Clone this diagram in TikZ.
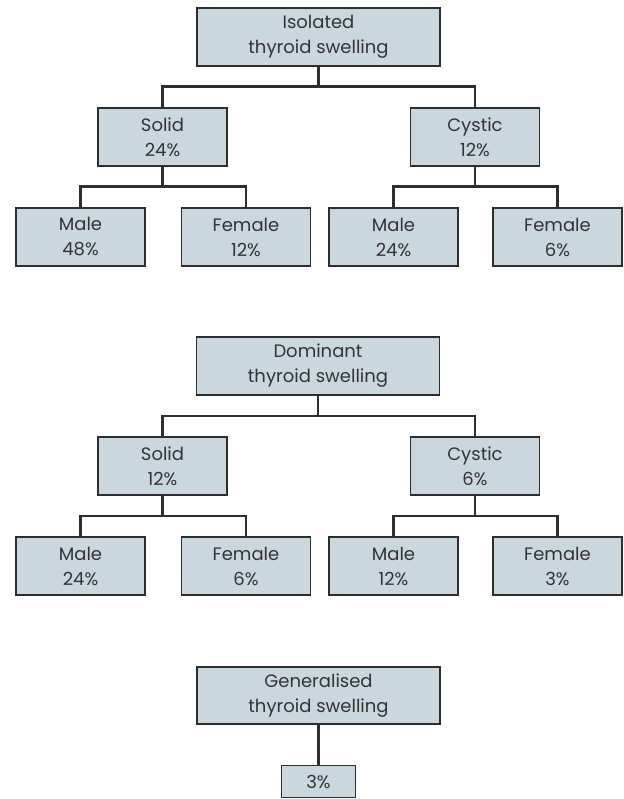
\documentclass[tikz,border=0pt]{standalone}
\usepackage{fontspec}
\setmainfont{Poppins}
\definecolor{boxfill}{HTML}{CBD7DF}
\definecolor{boxline}{HTML}{2E2E2E}
\definecolor{txt}{HTML}{333333}
\begin{document}
\begin{tikzpicture}[x=1pt,y=-1pt,
  box/.style={draw=boxline,fill=boxfill,line width=1.3pt,minimum height=58pt,
    inner sep=0pt,align=center,text=txt,font=\fontsize{18}{25}\selectfont},
  big/.style={box,minimum width=243pt},
  small/.style={box,minimum width=129pt},
  link/.style={draw=boxline,line width=2.3pt}]
\useasboundingbox (0,0) rectangle (623,799);
% Diagram 1
\node[big] (iso) at (318.5,37) {Isolated\\thyroid swelling};
\node[small] (isoS) at (162.5,137) {Solid\\24\%};
\node[small] (isoC) at (475,137) {Cystic\\12\%};
\node[small] (isoSM) at (80.5,237) {Male\\48\%};
\node[small] (isoSF) at (246,237) {Female\\12\%};
\node[small] (isoCM) at (393.5,237) {Male\\24\%};
\node[small] (isoCF) at (557.5,237) {Female\\6\%};
\draw[link] (iso.south) -- ++(0,20) -| (isoS.north);
\draw[link] (iso.south) -- ++(0,20) -| (isoC.north);
\draw[link] (isoS.south) -- ++(0,20) -| (isoSM.north);
\draw[link] (isoS.south) -- ++(0,20) -| (isoSF.north);
\draw[link] (isoC.south) -- ++(0,20) -| (isoCM.north);
\draw[link] (isoC.south) -- ++(0,20) -| (isoCF.north);
% Diagram 2
\node[big] (dom) at (318,366) {Dominant\\thyroid swelling};
\node[small] (domS) at (162.5,466) {Solid\\12\%};
\node[small] (domC) at (475,466) {Cystic\\6\%};
\node[small] (domSM) at (80.5,566) {Male\\24\%};
\node[small] (domSF) at (246,566) {Female\\6\%};
\node[small] (domCM) at (393.5,566) {Male\\12\%};
\node[small] (domCF) at (557.5,566) {Female\\3\%};
\draw[link] (dom.south) -- ++(0,20) -| (domS.north);
\draw[link] (dom.south) -- ++(0,20) -| (domC.north);
\draw[link] (domS.south) -- ++(0,20) -| (domSM.north);
\draw[link] (domS.south) -- ++(0,20) -| (domSF.north);
\draw[link] (domC.south) -- ++(0,20) -| (domCM.north);
\draw[link] (domC.south) -- ++(0,20) -| (domCF.north);
% Diagram 3
\node[big,minimum height=57pt] (gen) at (318.5,695.5) {Generalised\\thyroid swelling};
\node[box,minimum width=74pt,minimum height=32pt] (gen3) at (318.5,781.5) {3\%};
\draw[link] (gen.south) -- (gen3.north);
\end{tikzpicture}
\end{document}
